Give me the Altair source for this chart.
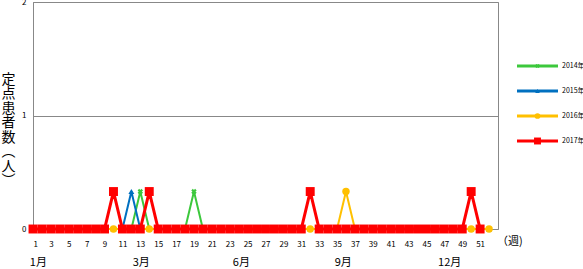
import altair as alt
import pandas as pd

weeks = list(range(1, 53))
series_names = ["2014年", "2015年", "2016年", "2017年"]
colors = ["#3cc83c", "#0070c0", "#ffc000", "#ff0000"]

v2014 = [0]*52
v2015 = [0]*52
v2016 = [0]*52
v2017 = [0]*51
peaks = {"2014年": [13, 19], "2015年": [12], "2016年": [36], "2017年": [10, 14, 32, 50]}
vals = {"2014年": v2014, "2015年": v2015, "2016年": v2016, "2017年": v2017}
for s, ws in peaks.items():
    for w in ws:
        vals[s][w-1] = 0.33

month_labels = ["1月", "3月", "6月", "9月", "12月"]
month_pos = [1.6, 13.1, 24.3, 35.7, 47.6]
week_ticks = list(range(1, 52, 2))
y_ticks = [0, 1, 2]

FONT = "Noto Sans CJK JP"

rows = []
for s in series_names:
    for i, v in enumerate(vals[s]):
        rows.append({"series": s, "week": i+1, "value": v})
df = pd.DataFrame(rows)

xsc = alt.Scale(domain=[1, 53], nice=False, zero=False)
ysc = alt.Scale(domain=[0, 2], nice=False)
csc = alt.Scale(domain=series_names, range=colors)

xax = alt.Axis(values=week_ticks, tickSize=0, labelPadding=11, labelFontSize=8, labelColor="#000",
               grid=False, domain=False, title=None, labelFont=FONT, labelAngle=0)
yax = alt.Axis(values=y_ticks, labelExpr="'' + datum.value", tickSize=0, labelPadding=7,
               labelFontSize=8, labelColor="#000", grid=True, gridColor="#888",
               domainColor="#888",
               title=["定", "点", "患", "者", "数", "︵", "人", "︶"],
               titleAngle=0, titleX=-25, titleY=70, titleAlign="center", titleBaseline="top",
               titleFontSize=14, titleFontWeight="normal", titleLineHeight=14.5, titleFont=FONT,
               labelFont=FONT)

X = alt.X("week:Q", scale=xsc, axis=xax)
Y = alt.Y("value:Q", scale=ysc, axis=yax)
C = alt.Color("series:N", scale=csc, legend=None)

styles = {
    "2014年": dict(shape="cross", size=30, angle=45, lw=2),
    "2015年": dict(shape="triangle-up", size=35, angle=0, lw=2),
    "2016年": dict(shape="circle", size=55, angle=0, lw=2),
    "2017年": dict(shape="square", size=80, angle=0, lw=3),
}

layers = []
for s in series_names:
    st = styles[s]
    base = alt.Chart(df[df.series == s])
    layers.append(base.mark_line(strokeWidth=st["lw"]).encode(x=X, y=Y, color=C))
    layers.append(base.mark_point(shape=st["shape"], size=st["size"], angle=st["angle"],
                                  filled=True, opacity=1).encode(x=X, y=Y, color=C))

mdf = pd.DataFrame({"m": month_labels, "pos": month_pos})
months = alt.Chart(mdf).mark_text(fontSize=11, font=FONT, color="#000", baseline="middle").encode(
    x=alt.X("pos:Q", scale=xsc, axis=xax), y=alt.value(261), text="m:N")

unit = alt.Chart(pd.DataFrame({"t": ["（週)"]})).mark_text(
    fontSize=11, font=FONT, color="#000", align="left", baseline="middle").encode(
    x=alt.value(464), y=alt.value(240), text="t:N")

# legend (drawn in pixel space, one row per series)
leg_layers = []
for i, s in enumerate(series_names):
    st = styles[s]
    ld = alt.Chart(pd.DataFrame({"series": [s]}))
    yy = alt.value(64 + 25 * i)
    leg_layers.append(ld.mark_rule(strokeWidth=3).encode(
        x=alt.value(484), x2=alt.value(525), y=yy, color=C))
    leg_layers.append(ld.mark_point(shape=st["shape"], size=st["size"] * 0.6, angle=st["angle"],
                                    filled=True, opacity=1).encode(
        x=alt.value(504.5), y=yy, color=C))
    leg_layers.append(ld.mark_text(fontSize=7, font=FONT, color="#000", align="left",
                                   baseline="middle").encode(
        x=alt.value(529), y=yy, text="series:N"))

chart = alt.layer(*layers, months, unit, *leg_layers).properties(
    width=465, height=227,
    padding={"left": 33, "top": 2, "right": 85, "bottom": 40},
    autosize=alt.AutoSizeParams(type="none"),
    background="white",
).configure_view(stroke="#888", strokeWidth=1)

chart.save("out.html", embed_options={"renderer": "svg", "actions": False})
